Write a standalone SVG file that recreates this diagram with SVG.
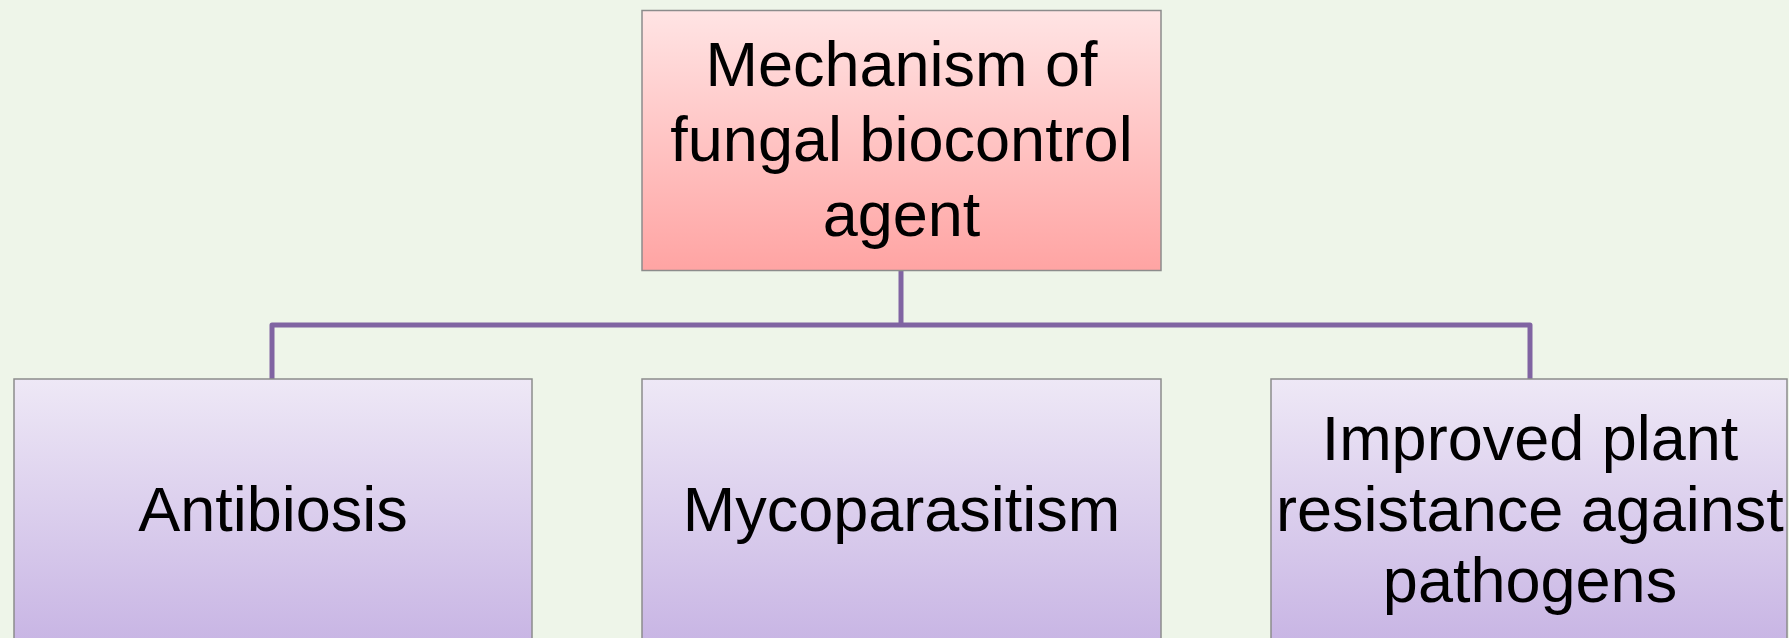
<svg xmlns="http://www.w3.org/2000/svg" width="1789" height="638" viewBox="0 0 1789 638">
<defs>
<linearGradient id="gTop" x1="0" y1="0" x2="0" y2="1">
<stop offset="0" stop-color="#FFE4E4"/>
<stop offset="1" stop-color="#FFA4A3"/>
</linearGradient>
<linearGradient id="gBot" x1="0" y1="0" x2="0" y2="1">
<stop offset="0" stop-color="#EEE8F6"/>
<stop offset="1" stop-color="#C8B5E4"/>
</linearGradient>
</defs>
<style>
.box{stroke:#8C8C8C;stroke-width:1.5}
.lbl{font-family:"Liberation Sans",Arial,sans-serif;font-size:63px;fill:#000;text-anchor:middle}
.conn{fill:none;stroke:#8064A2;stroke-width:5;stroke-linejoin:round}
</style>
<rect width="1789" height="638" fill="#EEF5E9"/>
<g id="connectors">
<path class="conn" d="M901,270 V325"/>
<path class="conn" d="M272,379 V325 H1530 V379"/>
</g>
<g id="node-root">
<rect class="box" x="642" y="10.5" width="519" height="260" fill="url(#gTop)"/>
<text class="lbl" x="901.5" y="86">Mechanism of</text>
<text class="lbl" x="901.5" y="161">fungal biocontrol</text>
<text class="lbl" x="901.5" y="236">agent</text>
</g>
<g id="node-antibiosis">
<rect class="box" x="14" y="379" width="518" height="264" fill="url(#gBot)"/>
<text class="lbl" x="273" y="531">Antibiosis</text>
</g>
<g id="node-mycoparasitism">
<rect class="box" x="642" y="379" width="519" height="264" fill="url(#gBot)"/>
<text class="lbl" x="901.5" y="531">Mycoparasitism</text>
</g>
<g id="node-resistance">
<rect class="box" x="1271" y="379" width="516" height="264" fill="url(#gBot)"/>
<text class="lbl" x="1530" y="460">Improved plant</text>
<text class="lbl" x="1530" y="531">resistance against</text>
<text class="lbl" x="1530" y="602">pathogens</text>
</g>
</svg>
